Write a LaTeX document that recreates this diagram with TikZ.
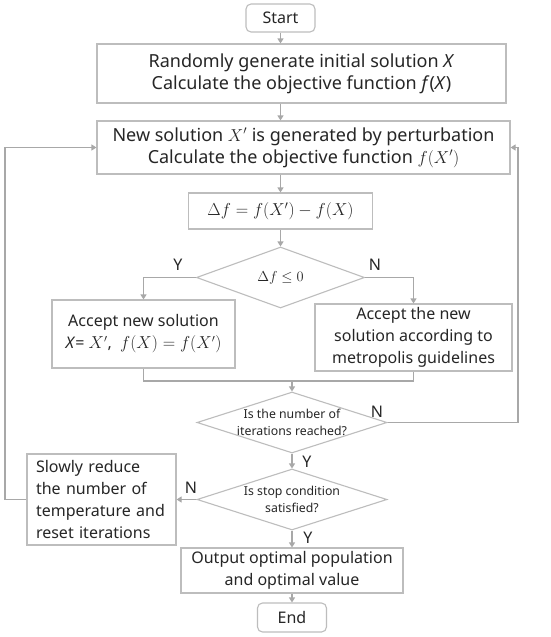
\documentclass[tikz,border=0pt]{standalone}
\usepackage{fontspec}
\setmainfont{Noto Sans}
\usetikzlibrary{shapes.geometric,arrows.meta}
\definecolor{linegray}{HTML}{A8A8A8}
\definecolor{boxgray}{HTML}{BDBDBD}
\definecolor{textgray}{HTML}{262626}
\begin{document}
\begin{tikzpicture}[x=1pt,y=-1pt,
    process/.style={draw=boxgray, line width=1.1pt, text=textgray, align=center,
      inner sep=0pt, font=\fontsize{16}{22}\selectfont},
    terminal/.style={process, rounded corners=5pt},
    decision/.style={diamond, draw=boxgray, line width=1.1pt, aspect=3, inner sep=-4pt,
      minimum width=190, minimum height=61, text=textgray, align=center,
      font=\fontsize{12.3}{17.5}\selectfont},
    arrow/.style={draw=linegray, line width=1.1pt, -{Triangle[width=6pt,length=5pt]}},
    link/.style={draw=linegray, line width=1.1pt},
    answer/.style={text=textgray, font=\fontsize{16}{18}\selectfont}]
\useasboundingbox[fill=white] (0,0) rectangle (550,637);

\node (start) at (280.5,18) [terminal, minimum width=69, minimum height=28] {Start};
\node (init) at (301.5,73.5) [process, minimum width=409, minimum height=59, font=\fontsize{18}{22}\selectfont]
  {Randomly generate initial solution \textit{X}\\Calculate the objective function \textit{f}(\textit{X})};
\node (perturb) at (303.5,147.5) [process, minimum width=413, minimum height=53, font=\fontsize{18}{22}\selectfont]
  {New solution $X'$ is generated by perturbation\\Calculate the objective function $f(X')$};
\node (delta) at (280.5,211) [process, minimum width=184, minimum height=36, font=\fontsize{17.5}{22}\selectfont]
  {$\Delta f = f(X') - f(X)$};
\node (dec1) at (280.5,277.5) [decision, minimum width=168, font=\fontsize{13.5}{18}\selectfont] {$\Delta f \le 0$};
\node (accept) at (143.5,334) [process, minimum width=183, minimum height=68]
  {Accept new solution\\\textit{X}= $X'$,\ \ $f(X) = f(X')$};
\node (metro) at (413.5,337.5) [process, minimum width=197, minimum height=67]
  {Accept the new\\solution according to\\metropolis guidelines};
\coordinate (merge) at (292,381);
\node (dec2) at (292,422.5) [decision] {Is the number of\\iterations reached?};
\node (dec3) at (292,499.5) [decision] {Is stop condition\\satisfied?};
\node (reduce) at (101.5,499.5) [process, align=left, text width=131, inner xsep=9pt, minimum height=91]
  {Slowly reduce\\the number of\\temperature and\\reset iterations};
\node (output) at (292,570.5) [process, minimum width=222, minimum height=45]
  {Output optimal population\\and optimal value};
\node (end) at (292,617.5) [terminal, minimum width=69, minimum height=29] {End};
\coordinate (rightrail) at (518,0);
\coordinate (leftrail) at (5,0);

\draw[arrow] (start.south) -- (start.south |- init.north);
\draw[arrow] (init.south -| start) -- (perturb.north -| start);
\draw[arrow] (perturb.south -| delta) -- (delta.north);
\draw[arrow] (delta.south) -- (dec1.north);
\draw[arrow] (dec1.west) -| (accept.north);
\draw[arrow] (dec1.east) -| (metro.north);
\draw[link] (accept.south) |- (merge) -| (metro.south);
\draw[arrow] (merge) -- (dec2.north);
\draw[arrow] (dec2.east) -| (rightrail |- perturb.east) -- (perturb.east);
\draw[arrow] (dec2.south) -- (dec3.north);
\draw[arrow] (dec3.west) -- (reduce.east);
\draw[arrow] (reduce.west) -| (leftrail |- perturb.west) -- (perturb.west);
\draw[arrow] (dec3.south) -- (output.north);
\draw[arrow] (output.south) -- (end.north);

\node (y1) at (178,265) [answer] {Y};
\node (n1) at (375,265) [answer] {N};
\node (n2) at (377,412) [answer] {N};
\node (y2) at (307,462) [answer] {Y};
\node (n3) at (191,488) [answer] {N};
\node (y3) at (308,538) [answer] {Y};
\end{tikzpicture}
\end{document}
